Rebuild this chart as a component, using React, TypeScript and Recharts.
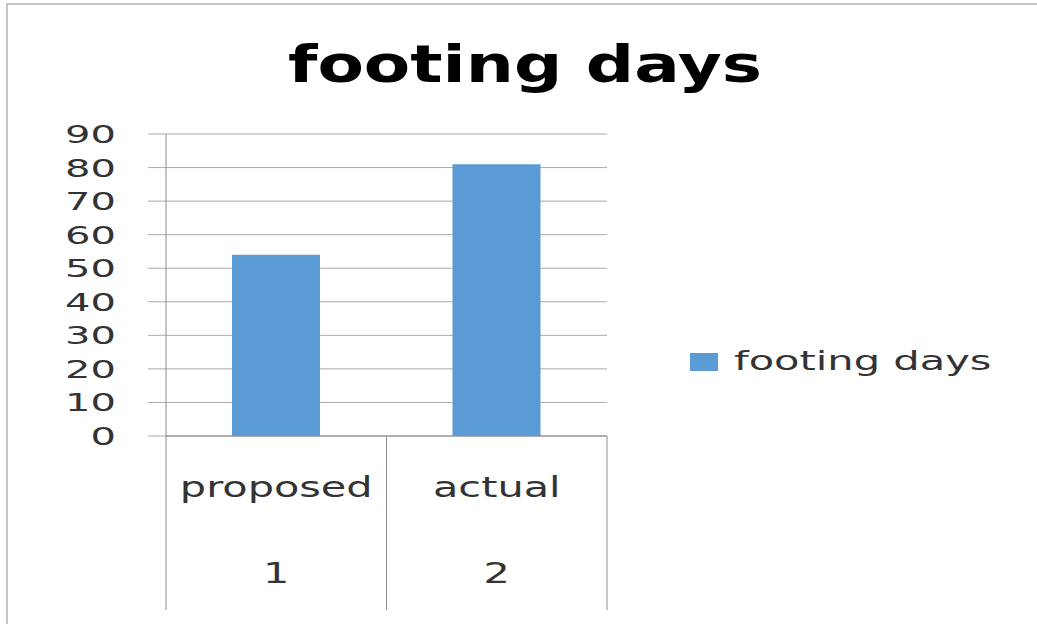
import React from "react";
import {
  Bar,
  BarChart,
  CartesianGrid,
  Legend,
  XAxis,
  YAxis,
} from "recharts";

// chart values
const categories = ["proposed", "actual"];
const indexLabels = ["1", "2"];
const footingDays = [54, 81];
const yTicks = [0, 10, 20, 30, 40, 50, 60, 70, 80, 90];
const seriesName = "footing days";
const chartTitle = "footing days";

const FONT = "'DejaVu Sans', sans-serif";
const TEXT = "#333333";
const GRID = "#ababab";
const AXIS = "#8a8a8a";
const BLUE = "#5B9BD5";

const data = categories.map((name, i) => ({
  name,
  index: indexLabels[i],
  value: footingDays[i],
}));

function YTick(props: any) {
  const { x, y, payload } = props;
  return (
    <g transform={`translate(${x},${y}) scale(1.6,1)`}>
      <text
        x={0}
        y={0}
        dy="0.36em"
        textAnchor="end"
        fontFamily={FONT}
        fontSize={25}
        fill={TEXT}
      >
        {payload.value}
      </text>
    </g>
  );
}

function XTick(props: any) {
  const { x, y, payload, index } = props;
  const half = payload.offset ?? 0;
  const row = data[index];
  const last = index === data.length - 1;
  return (
    <g>
      <line x1={x - half} y1={y} x2={x - half} y2={y + 174} stroke={AXIS} />
      {last && (
        <line x1={x + half} y1={y} x2={x + half} y2={y + 174} stroke={AXIS} />
      )}
      <g transform={`translate(${x},${y + 51}) scale(1.48,1)`}>
        <text
          dy="0.36em"
          textAnchor="middle"
          fontFamily={FONT}
          fontSize={28}
          fill={TEXT}
        >
          {payload.value}
        </text>
      </g>
      <g transform={`translate(${x},${y + 137}) scale(1.48,1)`}>
        <text
          dy="0.36em"
          textAnchor="middle"
          fontFamily={FONT}
          fontSize={28}
          fill={TEXT}
        >
          {row ? row.index : ""}
        </text>
      </g>
    </g>
  );
}

function LegendBox(props: any) {
  const item = props.payload && props.payload[0];
  if (!item) return null;
  return (
    <svg width={430} height={40} style={{ display: "block" }}>
      <rect x={83} y={12} width={28} height={18} fill={item.color} />
      <g transform="translate(127,29) scale(1.54,1)">
        <text fontFamily={FONT} fontSize={27} fill={TEXT}>
          {item.value}
        </text>
      </g>
    </svg>
  );
}

export default function App() {
  return (
    <div
      style={{
        position: "absolute",
        left: 0,
        top: 0,
        width: 1037,
        height: 624,
        overflow: "hidden",
        background: "#fff",
      }}
    >
      <div
        style={{
          position: "absolute",
          left: 6,
          top: 3,
          width: 1100,
          height: 700,
          borderLeft: "2px solid #c4c4c4",
          borderTop: "2px solid #c4c4c4",
        }}
      />
      <div style={{ position: "absolute", left: 0, top: 0 }}>
        <BarChart
          width={1037}
          height={624}
          data={data}
          margin={{ top: 134, right: 0, left: 0, bottom: 14 }}
        >
          <CartesianGrid horizontal vertical={false} stroke={GRID} />
          <XAxis
            dataKey="name"
            height={174}
            tickLine={false}
            tickSize={0}
            tickMargin={0}
            axisLine={{ stroke: AXIS }}
            tick={<XTick />}
            interval={0}
          />
          <YAxis
            width={166}
            domain={[0, 90]}
            ticks={yTicks}
            interval={0}
            tickSize={18}
            tickMargin={32}
            tickLine={{ stroke: GRID }}
            axisLine={{ stroke: AXIS }}
            tick={<YTick />}
          />
          <Legend
            layout="vertical"
            align="right"
            verticalAlign="middle"
            content={<LegendBox />}
            wrapperStyle={{ width: 430, top: 341 }}
          />
          <Bar
            dataKey="value"
            name={seriesName}
            fill={BLUE}
            barSize={88}
            isAnimationActive={false}
          />
        </BarChart>
      </div>
      <svg
        width={1037}
        height={120}
        style={{ position: "absolute", left: 0, top: 0, pointerEvents: "none" }}
      >
        <g transform="translate(525,82) scale(1.3,1)">
          <text
            textAnchor="middle"
            fontFamily={FONT}
            fontWeight="bold"
            fontSize={52}
            fill="#000"
          >
            {chartTitle}
          </text>
        </g>
      </svg>
    </div>
  );
}
